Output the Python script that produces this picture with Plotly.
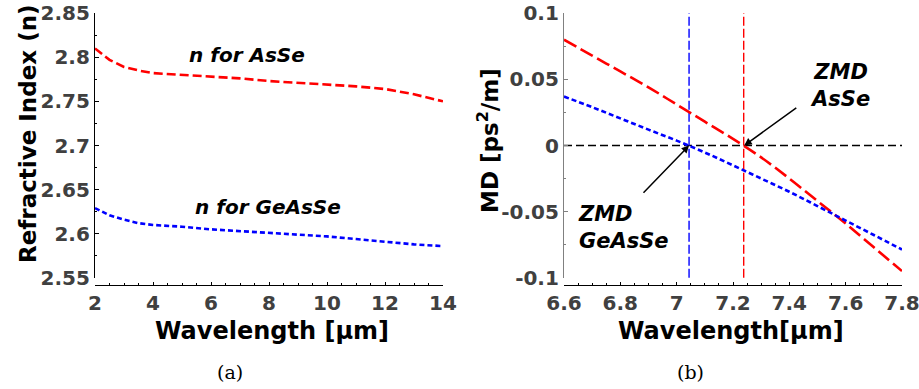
import plotly.graph_objects as go

# ---- data: refractive index (a)
wl_n = [2, 2.5, 3, 3.5, 4, 5, 6, 7, 8, 9, 10, 11, 12, 13, 14]
n_asse = [2.810, 2.797, 2.789, 2.785, 2.782, 2.780, 2.778, 2.776, 2.773, 2.771, 2.769, 2.767, 2.764, 2.758, 2.750]
n_geasse = [2.629, 2.621, 2.616, 2.612, 2.610, 2.608, 2.605, 2.603, 2.6015, 2.599, 2.597, 2.594, 2.591, 2.588, 2.586]

# ---- data: material dispersion (b)
wl_md = [6.6, 6.7, 6.8, 6.9, 7.0, 7.1, 7.2, 7.3, 7.4, 7.5, 7.6, 7.7, 7.8]
md_asse = [0.080, 0.068, 0.056, 0.044, 0.031, 0.018, 0.005, -0.009, -0.025, -0.042, -0.059, -0.077, -0.095]
md_geasse = [0.037, 0.029, 0.0205, 0.012, 0.0037, -0.0053, -0.015, -0.025, -0.035, -0.0458, -0.0568, -0.0677, -0.0787]
zmd_geasse = 7.044
zmd_asse = 7.238

FONT = "DejaVu Sans"
TICKC = "#404040"
W, H = 919, 389

def px_x(p):
    return p / W

def px_y(p):
    return 1 - p / H

fig = go.Figure()

fig.add_trace(go.Scatter(x=wl_n, y=n_asse, mode="lines", line=dict(color="#ff0000", width=2.6, dash="9px,4px"), xaxis="x", yaxis="y", showlegend=False))
fig.add_trace(go.Scatter(x=wl_n, y=n_geasse, mode="lines", line=dict(color="#0000ff", width=2.6, dash="5px,3px"), xaxis="x", yaxis="y", showlegend=False))

# right panel
fig.add_trace(go.Scatter(x=[6.6, 7.8], y=[0, 0], mode="lines", line=dict(color="black", width=1.4, dash="8px,4px"), xaxis="x2", yaxis="y2", showlegend=False))
fig.add_trace(go.Scatter(x=[zmd_geasse, zmd_geasse], y=[-0.1, 0.1], mode="lines", line=dict(color="#0000ff", width=1.4, dash="9px,3px"), xaxis="x2", yaxis="y2", showlegend=False))
fig.add_trace(go.Scatter(x=[zmd_asse, zmd_asse], y=[-0.1, 0.1], mode="lines", line=dict(color="#ff0000", width=1.4, dash="9px,3px"), xaxis="x2", yaxis="y2", showlegend=False))
fig.add_trace(go.Scatter(x=wl_md, y=md_asse, mode="lines", line=dict(color="#ff0000", width=2.6, dash="14px,5px", shape="spline"), xaxis="x2", yaxis="y2", showlegend=False))
fig.add_trace(go.Scatter(x=wl_md, y=md_geasse, mode="lines", line=dict(color="#0000ff", width=2.6, dash="5px,3px", shape="spline"), xaxis="x2", yaxis="y2", showlegend=False))

ydom = [px_y(278), px_y(13)]
xpos = px_y(285)

tickfont = dict(family=FONT, size=20, color=TICKC, weight="bold")

common_x = dict(showline=True, linecolor="black", linewidth=1.2, ticks="inside", ticklen=3,
                tickcolor="black", tickfont=tickfont, showgrid=False, zeroline=False,
                anchor="free", position=xpos, ticklabeloverflow="allow", automargin=False)
common_y = dict(showline=True, linewidth=1.2, ticks="inside", ticklen=4,
                tickfont=tickfont, showgrid=False, zeroline=False,
                ticklabeloverflow="allow", automargin=False)

fig.update_layout(
    width=W, height=H, margin=dict(l=0, r=0, t=0, b=0, autoexpand=False),
    plot_bgcolor="white", paper_bgcolor="white",
    xaxis=dict(domain=[px_x(95), px_x(443)], range=[2, 14], tickvals=[2, 4, 6, 8, 10, 12, 14],
               minor=dict(ticks="inside", ticklen=2, dtick=0.5, tickcolor="black", showgrid=False),
               **common_x),
    yaxis=dict(domain=ydom, range=[2.5499, 2.8501], tickvals=[2.55, 2.6, 2.65, 2.7, 2.75, 2.8, 2.85],
               ticktext=["2.55", "2.6", "2.65", "2.7", "2.75", "2.8", "2.85"],
               minor=dict(ticks="inside", ticklen=2, dtick=0.025, tickcolor="black", showgrid=False),
               linecolor="black", tickcolor="black", anchor="x", **common_y),
    xaxis2=dict(domain=[px_x(564), px_x(902)], range=[6.6, 7.8], tickvals=[6.6, 6.8, 7.0, 7.2, 7.4, 7.6, 7.8],
                ticktext=["6.6", "6.8", "7", "7.2", "7.4", "7.6", "7.8"],
                minor=dict(ticks="inside", ticklen=2, dtick=0.05, tickcolor="black", showgrid=False),
                **common_x),
    yaxis2=dict(domain=ydom, range=[-0.1002, 0.1002], tickvals=[-0.1, -0.05, 0, 0.05, 0.1],
                ticktext=["-0.1", "-0.05", "0", "0.05", "0.1"],
                minor=dict(ticks="inside", ticklen=2, dtick=0.025, tickcolor="#808080", showgrid=False),
                linecolor="#808080", tickcolor="#808080", anchor="x2", **common_y),
)

def paper_text(xp, yp, text, font, **kw):
    opts = dict(xanchor="center", yanchor="middle")
    opts.update(kw)
    fig.add_annotation(x=px_x(xp), y=px_y(yp), xref="paper", yref="paper", text=text,
                       showarrow=False, font=font, **opts)

# axis titles
xt_font = dict(family=FONT, size=24, color="black", weight="bold")
yt_font = dict(family=FONT, size=23, color="black", weight="bold")
paper_text(272, 331, "Wavelength [μm]", xt_font)
paper_text(731, 331, "Wavelength[μm]", xt_font)
paper_text(28, 134, "Refractive Index (n)", yt_font, textangle=-90)
paper_text(488, 140, "MD [ps<sup>2</sup>/m]", yt_font, textangle=-90)

annfont = dict(family=FONT, size=20, color="black", weight="bold", style="italic")
fig.add_annotation(x=7.24, y=2.802, xref="x", yref="y", text="n for AsSe", showarrow=False, font=annfont,
                   xanchor="center", yanchor="middle")
fig.add_annotation(x=7.97, y=2.630, xref="x", yref="y", text="n for GeAsSe", showarrow=False, font=annfont,
                   xanchor="center", yanchor="middle")

fig.add_annotation(x=7.24, y=0.0, xref="x2", yref="y2", ax=7.43, ay=0.0293, axref="x2", ayref="y2",
                   text="", showarrow=True, arrowhead=2, arrowsize=1, arrowwidth=1.5, arrowcolor="black")
fig.add_annotation(x=7.044, y=0.0, xref="x2", yref="y2", ax=6.877, ay=-0.0368, axref="x2", ayref="y2",
                   text="", showarrow=True, arrowhead=2, arrowsize=1, arrowwidth=1.5, arrowcolor="black")
zfont = dict(annfont, size=21)
paper_text(840, 86, "ZMD<br>AsSe", zfont, align="center")
paper_text(576, 227, "ZMD<br>GeAsSe", zfont, align="left", xanchor="left")

capfont = dict(family="DejaVu Serif", size=19, color="black")
paper_text(230, 372, "(a)", capfont)
paper_text(690, 372, "(b)", capfont)

fig.write_html("out.html")
